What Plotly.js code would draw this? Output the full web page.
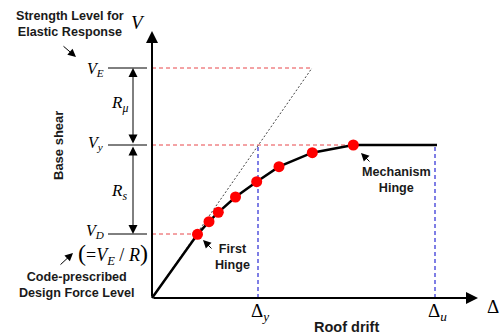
<!DOCTYPE html>
<html>
<head>
<meta charset="utf-8">
<script src="https://cdn.plot.ly/plotly-3.0.1.min.js"></script>
<style>html,body{margin:0;padding:0;background:#fff;}#chart{width:502px;height:335px;}</style>
</head>
<body>
<div id="chart"></div>
<script>
// Pushover curve (roof drift vs base shear), diagram units
const curveDrift = [0, 45.5, 57, 66.3, 83.5, 104.7, 127, 160.3, 201.3, 285];
const curveShear = [0, 63.7, 76.3, 85.7, 101, 116.3, 131.3, 145.3, 153, 153];
const hingeDrift = [45.5, 57, 66.3, 83.5, 104.7, 127, 160.3, 201.3];
const hingeShear = [63.7, 76.3, 85.7, 101, 116.3, 131.3, 145.3, 153];
// Strength levels
const levelE = 230;   // V_E
const levelY = 153;   // V_y
const levelD = 64;    // V_D
// Drift levels
const driftE = 160;   // elastic drift at V_E
const driftY = 106;   // Δy
const driftU = 283;   // Δu
const firstHingeDrift = 45.5;
const mechHingeDrift = 201.3;

const mathFont = {family: 'Liberation Serif, Times New Roman, serif', size: 16, color: '#000'};
const boldFont = {family: 'Liberation Sans, Arial, sans-serif', size: 12.6, color: '#1a1a1a'};

const traces = [
  {x: [0, driftE], y: [levelE, levelE], mode: 'lines', line: {color: '#e8474a', width: 1, dash: '4px,3px'}, hoverinfo: 'skip'},
  {x: [0, mechHingeDrift], y: [levelY, levelY], mode: 'lines', line: {color: '#e8474a', width: 1, dash: '4px,3px'}, hoverinfo: 'skip'},
  {x: [0, firstHingeDrift], y: [levelD, levelD], mode: 'lines', line: {color: '#e8474a', width: 1, dash: '4px,3px'}, hoverinfo: 'skip'},
  {x: [0, driftE], y: [0, levelE], mode: 'lines', line: {color: '#444', width: 1, dash: '2px,2px'}, hoverinfo: 'skip'},
  {x: [driftY, driftY], y: [0, levelY], mode: 'lines', line: {color: '#3a3ad8', width: 1.3, dash: '4px,3px'}, hoverinfo: 'skip'},
  {x: [driftU, driftU], y: [0, levelY], mode: 'lines', line: {color: '#3a3ad8', width: 1.3, dash: '4px,3px'}, hoverinfo: 'skip'},
  {x: curveDrift, y: curveShear, mode: 'lines', line: {color: '#000', width: 2.5}, hoverinfo: 'skip'},
  {x: hingeDrift, y: hingeShear, mode: 'markers', marker: {color: '#ff0000', size: 11}, hoverinfo: 'skip'}
];

function arrow(x, y, ax, ay, w, size, side) {
  return {x: x, y: y, ax: ax, ay: ay, xref: 'x', yref: 'y', axref: 'x', ayref: 'y',
    text: '', showarrow: true, arrowhead: 2, arrowwidth: w, arrowsize: size,
    arrowcolor: '#000', standoff: 0, startstandoff: 0, arrowside: side || 'end'};
}
function label(x, y, text, font, extra) {
  return Object.assign({x: x, y: y, xref: 'x', yref: 'y', text: text, showarrow: false, font: font}, extra || {});
}

const annotations = [
  // axes
  arrow(0, 267, 0, 0, 2, 1.2),
  arrow(326, 0, 0, 0, 2, 1.2),
  // strength reduction arrows
  arrow(-19, levelE, -19, levelY, 1, 1.8, 'end+start'),
  arrow(-19, levelD, -19, levelY, 1, 1.8, 'end+start'),
  // pointer arrows
  arrow(-76, 241, -90, 253, 1, 1.6),
  arrow(-79, 45, -93, 32, 1, 1.6),
  arrow(51, 58, 61, 48, 1, 1.6),
  arrow(209, 145, 219, 135, 1, 1.6),
  // math labels
  label(-14, 276, '<i>V</i>', Object.assign({}, mathFont, {size: 19})),
  label(-57, 229, '<i>V<sub>E</sub></i>', mathFont),
  label(-57, 155, '<i>V<sub>y</sub></i>', mathFont),
  label(-57, 67, '<i>V<sub>D</sub></i>', mathFont),
  label(-39, 44, '<span style="font-size:24px">(</span>=<i>V<sub>E</sub></i> / <i>R</i><span style="font-size:24px">)</span>', Object.assign({}, mathFont, {size: 18})),
  label(-33, 194, '<i>R<sub>μ</sub></i>', Object.assign({}, mathFont, {size: 17})),
  label(-33, 106, '<i>R<sub>s</sub></i>', Object.assign({}, mathFont, {size: 17})),
  label(driftY + 2, -14, 'Δ<sub><i>y</i></sub>', Object.assign({}, mathFont, {size: 19})),
  label(driftU + 2, -14, 'Δ<sub><i>u</i></sub>', Object.assign({}, mathFont, {size: 19})),
  label(341, -8, 'Δ', Object.assign({}, mathFont, {size: 19})),
  // text labels
  label(194, -29, '<b>Roof drift</b>', Object.assign({}, boldFont, {size: 14.5})),
  label(-94, 152, '<b>Base shear</b>', Object.assign({}, boldFont, {size: 13}), {textangle: -90}),
  label(-82, 274, '<b>Strength Level for<br>Elastic Response</b>', boldFont, {align: 'center'}),
  label(-76, 13, '<b>Code-prescribed<br>Design Force Level</b>', boldFont, {align: 'center'}),
  label(80, 41, '<b>First<br>Hinge</b>', boldFont, {align: 'center'}),
  label(244, 118, '<b>Mechanism<br>Hinge</b>', boldFont, {align: 'center'})
];

const shapes = [levelE, levelY, levelD].map(v => ({
  type: 'line', xref: 'x', yref: 'y', x0: -44, x1: -5, y0: v, y1: v, line: {color: '#000', width: 1}
}));

const layout = {
  width: 502, height: 335,
  margin: {l: 0, r: 0, t: 0, b: 0, pad: 0},
  paper_bgcolor: '#fff', plot_bgcolor: '#fff',
  showlegend: false,
  xaxis: {range: [-152, 350], visible: false, fixedrange: true},
  yaxis: {range: [-37, 298], visible: false, fixedrange: true},
  annotations: annotations,
  shapes: shapes
};

Plotly.newPlot('chart', traces, layout, {staticPlot: true, displayModeBar: false});
</script>
</body>
</html>
